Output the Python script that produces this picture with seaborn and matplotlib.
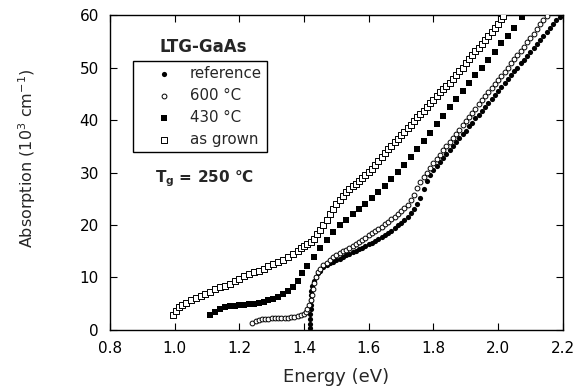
import numpy as np
import pandas as pd
import matplotlib
matplotlib.use("Agg")
import matplotlib.pyplot as plt
import seaborn as sns

# ---------------- data ----------------
x_ticks = [0.8, 1.0, 1.2, 1.4, 1.6, 1.8, 2.0, 2.2]
y_ticks = [0, 10, 20, 30, 40, 50, 60]

ref_E = [1.418, 1.418, 1.419, 1.419, 1.420, 1.420, 1.421, 1.422, 1.423, 1.425,
         1.430, 1.436, 1.443, 1.45, 1.46, 1.47, 1.48, 1.49, 1.50, 1.51, 1.52,
         1.53, 1.54, 1.55, 1.56, 1.57, 1.58, 1.59, 1.60, 1.61, 1.62, 1.63,
         1.64, 1.65, 1.66, 1.67, 1.68, 1.69, 1.70, 1.71, 1.72, 1.73, 1.74,
         1.75, 1.76, 1.77, 1.78, 1.79, 1.80, 1.81, 1.82, 1.83, 1.84, 1.85,
         1.86, 1.87, 1.88, 1.89, 1.90, 1.91, 1.92, 1.93, 1.94, 1.95, 1.96,
         1.97, 1.98, 1.99, 2.00, 2.01, 2.02, 2.03, 2.04, 2.05, 2.06, 2.07,
         2.08, 2.09, 2.10, 2.11, 2.12, 2.13, 2.14, 2.15, 2.16, 2.17, 2.18, 2.19]
ref_A = [0.3, 1.2, 2.1, 3.0, 3.9, 4.8, 5.7, 6.6, 7.5, 8.4,
         9.3, 10.1, 10.8, 11.3, 11.9, 12.3, 12.7, 13.0, 13.3, 13.6, 13.9,
         14.2, 14.5, 14.8, 15.1, 15.4, 15.7, 16.0, 16.3, 16.6, 17.0, 17.3,
         17.7, 18.1, 18.5, 18.9, 19.4, 19.9, 20.4, 21.0, 21.6, 22.3, 23.1,
         24.0, 25.2, 26.8, 28.4, 29.5, 30.4, 31.2, 32.0, 32.8, 33.5, 34.3,
         35.0, 35.8, 36.5, 37.3, 38.0, 38.8, 39.5, 40.3, 41.0, 41.8, 42.5,
         43.3, 44.0, 44.8, 45.5, 46.3, 47.0, 47.8, 48.5, 49.3, 50.0, 50.8,
         51.5, 52.3, 53.0, 53.8, 54.5, 55.3, 56.0, 56.8, 57.5, 58.3, 59.0, 59.7]

a600_E = [1.24, 1.25, 1.26, 1.27, 1.28, 1.29, 1.30, 1.31, 1.32, 1.33, 1.34,
          1.35, 1.36, 1.37, 1.38, 1.39, 1.40, 1.405, 1.41, 1.415, 1.42, 1.424,
          1.428, 1.432, 1.437, 1.443, 1.45, 1.46, 1.47, 1.48, 1.49, 1.50,
          1.51, 1.52, 1.53, 1.54, 1.55, 1.56, 1.57, 1.58, 1.59, 1.60, 1.61,
          1.62, 1.63, 1.64, 1.65, 1.66, 1.67, 1.68, 1.69, 1.70, 1.71, 1.72,
          1.73, 1.74, 1.75, 1.76, 1.77, 1.78, 1.79, 1.80, 1.81, 1.82, 1.83,
          1.84, 1.85, 1.86, 1.87, 1.88, 1.89, 1.90, 1.91, 1.92, 1.93, 1.94,
          1.95, 1.96, 1.97, 1.98, 1.99, 2.00, 2.01, 2.02, 2.03, 2.04, 2.05,
          2.06, 2.07, 2.08, 2.09, 2.10, 2.11, 2.12, 2.13, 2.14, 2.15]
a600_A = [1.4, 1.7, 1.9, 2.0, 2.1, 2.1, 2.2, 2.2, 2.2, 2.3, 2.3,
          2.3, 2.4, 2.5, 2.6, 2.8, 3.1, 3.5, 4.0, 4.7, 5.6, 6.6,
          7.8, 9.0, 10.1, 11.0, 11.7, 12.3, 12.8, 13.3, 13.8, 14.2,
          14.6, 15.0, 15.3, 15.7, 16.0, 16.4, 16.8, 17.2, 17.6, 18.0, 18.4,
          18.8, 19.2, 19.7, 20.1, 20.6, 21.1, 21.6, 22.1, 22.6, 23.2, 23.9,
          24.8, 25.8, 27.0, 28.2, 29.2, 30.0, 30.9, 31.8, 32.6, 33.4, 34.2,
          35.0, 35.8, 36.6, 37.4, 38.2, 39.0, 39.8, 40.6, 41.4, 42.2, 43.0,
          43.8, 44.6, 45.4, 46.1, 46.9, 47.6, 48.4, 49.2, 50.0, 50.8, 51.6,
          52.4, 53.2, 54.0, 54.9, 55.7, 56.5, 57.4, 58.3, 59.1, 59.9]

a430_E = [1.11, 1.125, 1.14, 1.155, 1.17, 1.185, 1.20, 1.215, 1.23, 1.245,
          1.26, 1.275, 1.29, 1.305, 1.32, 1.335, 1.35, 1.365, 1.38, 1.395,
          1.41, 1.43, 1.45, 1.47, 1.49, 1.51, 1.53, 1.55, 1.57, 1.59, 1.61,
          1.63, 1.65, 1.67, 1.69, 1.71, 1.73, 1.75, 1.77, 1.79, 1.81, 1.83,
          1.85, 1.87, 1.89, 1.91, 1.93, 1.95, 1.97, 1.99, 2.01, 2.03, 2.05,
          2.075]
a430_A = [2.9, 3.5, 3.9, 4.3, 4.5, 4.6, 4.7, 4.8, 4.9, 5.0,
          5.1, 5.3, 5.6, 5.9, 6.3, 6.8, 7.4, 8.2, 9.4, 10.8,
          12.1, 13.9, 15.6, 17.2, 18.6, 19.9, 21.0, 22.0, 23.0, 24.0, 25.1,
          26.3, 27.5, 28.8, 30.1, 31.5, 33.0, 34.5, 36.0, 37.6, 39.2, 40.8,
          42.4, 44.0, 45.5, 47.0, 48.5, 50.0, 51.5, 53.0, 54.6, 56.1, 57.6,
          59.6]

grown_E = [0.995, 1.003, 1.012, 1.022, 1.035, 1.05, 1.065, 1.08, 1.095, 1.11,
           1.125, 1.14, 1.155, 1.17, 1.185, 1.20, 1.215, 1.23, 1.245, 1.26,
           1.275, 1.29, 1.305, 1.32, 1.335, 1.35, 1.365, 1.38, 1.39, 1.40,
           1.41, 1.42, 1.43, 1.44, 1.45, 1.46, 1.47, 1.48, 1.49, 1.50, 1.51,
           1.52, 1.53, 1.54, 1.55, 1.56, 1.57, 1.58, 1.59, 1.60, 1.61, 1.62,
           1.63, 1.64, 1.65, 1.66, 1.67, 1.68, 1.69, 1.70, 1.71, 1.72, 1.73,
           1.74, 1.75, 1.76, 1.77, 1.78, 1.79, 1.80, 1.81, 1.82, 1.83, 1.84,
           1.85, 1.86, 1.87, 1.88, 1.89, 1.90, 1.91, 1.92, 1.93, 1.94, 1.95,
           1.96, 1.97, 1.98, 1.99, 2.00, 2.01, 2.015]
grown_A = [2.9, 3.6, 4.3, 4.8, 5.2, 5.7, 6.1, 6.5, 6.9, 7.3,
           7.7, 8.1, 8.4, 8.8, 9.3, 9.7, 10.2, 10.6, 11.0, 11.3,
           11.7, 12.1, 12.5, 12.9, 13.4, 13.9, 14.5, 15.1, 15.6, 15.9,
           16.3, 16.8, 17.4, 18.2, 19.0, 20.0, 21.0, 22.0, 23.0, 24.0, 24.8,
           25.5, 26.2, 26.8, 27.4, 27.9, 28.4, 29.0, 29.5, 30.1, 30.6, 31.4,
           32.2, 33.0, 33.7, 34.4, 35.1, 35.8, 36.4, 37.1, 37.8, 38.5, 39.1,
           39.8, 40.5, 41.2, 41.8, 42.5, 43.2, 43.9, 44.6, 45.3, 45.9, 46.5,
           47.1, 47.8, 48.6, 49.3, 50.0, 50.8, 51.6, 52.4, 53.1, 53.8, 54.5,
           55.3, 56.0, 56.8, 57.6, 58.4, 59.2, 59.8]

labels = ["reference", "600 \u00b0C", "430 \u00b0C", "as grown"]

# ---------------- style ----------------
sns.set_style("ticks")
plt.rcParams["font.family"] = ["DejaVu Sans"]
plt.rcParams["mathtext.fontset"] = "dejavusans"

fig = plt.figure(figsize=(5.76, 3.89), dpi=100)
ax = fig.add_axes([0.191, 0.152, 0.786, 0.809])

sns.scatterplot(x=ref_E, y=ref_A, marker="o", color="black", s=14,
                linewidth=0, label=labels[0], ax=ax, zorder=3)
sns.scatterplot(x=a600_E, y=a600_A, marker="o", color="white", edgecolor="black",
                s=12, linewidth=0.7, label=labels[1], ax=ax, zorder=3)
sns.scatterplot(x=a430_E, y=a430_A, marker="s", color="black", s=19,
                linewidth=0, label=labels[2], ax=ax, zorder=3)
sns.scatterplot(x=grown_E, y=grown_A, marker="s", color="white", edgecolor="black",
                s=15, linewidth=0.7, label=labels[3], ax=ax, zorder=3)

ax.set_xlim(0.8, 2.2)
ax.set_ylim(0, 60)
ax.set_xticks(x_ticks)
ax.set_xticklabels([f"{v:.1f}" for v in x_ticks])
ax.set_yticks(y_ticks)
ax.set_yticklabels([str(v) for v in y_ticks])
ax.tick_params(direction="in", top=True, right=True, length=5, width=0.8,
               labelsize=11, colors="black")
ax.tick_params(axis="x", pad=8)
ax.tick_params(axis="y", pad=8)
for sp in ax.spines.values():
    sp.set_linewidth(1.0)
    sp.set_color("black")

ax.set_xlabel("Energy (eV)", fontsize=13)
ax.set_ylabel("Absorption (10$^{3}$ cm$^{-1}$)", fontsize=11.5)
ax.xaxis.label.set_va("baseline")
ax.xaxis.set_label_coords(0.5, -0.165)
ax.yaxis.label.set_va("center")
ax.yaxis.set_label_coords(-0.183, 0.546)

leg = ax.legend(loc="upper left", bbox_to_anchor=(0.051, 0.854),
                borderaxespad=0, frameon=True, fancybox=False, shadow=False,
                fontsize=10.8, handlelength=3.4, handletextpad=0.05,
                borderpad=0.35, labelspacing=0.45, markerscale=1.0)
leg.get_frame().set_edgecolor("black")
leg.get_frame().set_linewidth(1.0)
leg.get_frame().set_alpha(1)

ax.text(0.205, 0.883, "LTG-GaAs", transform=ax.transAxes, ha="center",
        va="baseline", fontsize=12, fontweight="bold")
ax.text(0.099, 0.470, "T$_{\\mathbf{g}}$ = 250 \u00b0C",
        transform=ax.transAxes, ha="left", va="baseline", fontsize=11,
        fontweight="bold")

fig.savefig("out.png", dpi=100)
